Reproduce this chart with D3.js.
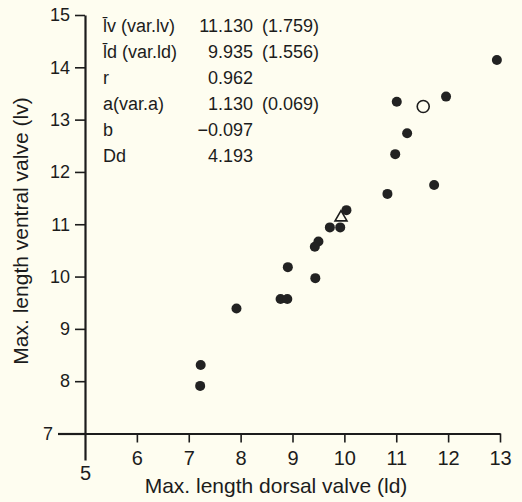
<!DOCTYPE html>
<html>
<head>
<meta charset="utf-8">
<script src="https://cdn.jsdelivr.net/npm/d3@7"></script>
<style>
  html, body { margin: 0; padding: 0; background: #fefdf0; }
  svg { display: block; }
  text { font-family: "Liberation Sans", Arial, Helvetica, sans-serif; fill: #1c1c1c; }
</style>
</head>
<body>
<svg id="chart" width="522" height="502"></svg>
<script>
// Dorsal (ld) and ventral (lv) valve lengths, filled specimens
const ldValues = [12.94, 11.96, 11.01, 11.21, 10.98, 11.73, 10.83, 10.04, 9.72, 9.92,
                  9.50, 9.43, 8.91, 9.44, 8.77, 8.90, 7.92, 7.23, 7.22];
const lvValues = [14.14, 13.44, 13.34, 12.74, 12.34, 11.75, 11.58, 11.27, 10.94, 10.94,
                  10.67, 10.57, 10.18, 9.97, 9.57, 9.57, 9.39, 8.31, 7.91];

// Specimen shown as an open circle
const openLd = [11.52];
const openLv = [13.25];

// Regression summary
const statLabels = ["l\u0304v (var.lv)", "l\u0304d (var.ld)", "r", "a(var.a)", "b", "Dd"];
const statValues = ["11.130", "9.935", "0.962", "1.130", "\u22120.097", "4.193"];
const statErrors = ["(1.759)", "(1.556)", "", "(0.069)", "", ""];

// Means of lv and ld, plotted as a triangle
const meanLd = +statValues[1];
const meanLv = +statValues[0];

const xTicks = [5, 6, 7, 8, 9, 10, 11, 12, 13];
const yTicks = [7, 8, 9, 10, 11, 12, 13, 14, 15];

const ink = "#1c1c1c";
const svg = d3.select("#chart");

const x = d3.scaleLinear().domain([5, 13]).range([85, 500]);
const y = d3.scaleLinear().domain([7, 15]).range([433.5, 15]);

// Y axis: the 7 tick runs out to form the left stub of the x axis
const gy = svg.append("g")
  .attr("transform", `translate(${x(5)},0)`)
  .call(d3.axisLeft(y).tickValues(yTicks).tickSize(10).tickSizeOuter(0).tickPadding(5));
gy.attr("font-size", null).attr("font-family", null);
gy.select(".domain").attr("stroke", ink).attr("stroke-width", 2.2);
gy.selectAll(".tick line").attr("stroke", ink).attr("stroke-width", 1.6);
gy.selectAll(".tick text").style("font-size", "18px");
const gy7 = gy.selectAll(".tick").filter(d => d === 7);
gy7.select("line").attr("x2", -27).attr("stroke-width", 2.2);
gy7.select("text").attr("x", -32);

// X axis: the 5 tick runs down to form the lower stub of the y axis
const gx = svg.append("g")
  .attr("transform", `translate(0,${y(7)})`)
  .call(d3.axisBottom(x).tickValues(xTicks).tickSize(9).tickSizeOuter(0).tickPadding(8));
gx.attr("font-size", null).attr("font-family", null);
gx.select(".domain").attr("stroke", ink).attr("stroke-width", 2.2);
gx.selectAll(".tick line").attr("stroke", ink).attr("stroke-width", 1.6);
gx.selectAll(".tick text").style("font-size", "20px");
const gx5 = gx.selectAll(".tick").filter(d => d === 5);
gx5.select("line").attr("y2", 27).attr("stroke-width", 2.2);
gx5.select("text").attr("y", 32);

// Axis titles
svg.append("text")
  .attr("x", 276).attr("y", 493)
  .attr("text-anchor", "middle")
  .style("font-size", "21px")
  .text("Max. length dorsal valve (ld)");

svg.append("text")
  .attr("transform", "translate(28,231) rotate(-90)")
  .attr("text-anchor", "middle")
  .style("font-size", "21px")
  .text("Max. length ventral valve (lv)");

// Summary table
const rowY = i => 32 + i * 26;
const table = svg.append("g").style("font-size", "18px");
table.selectAll("text.lab").data(statLabels).join("text")
  .attr("class", "lab")
  .attr("x", 103).attr("y", (d, i) => rowY(i))
  .text(d => d);
table.selectAll("text.val").data(statValues).join("text")
  .attr("class", "val")
  .attr("x", 253).attr("y", (d, i) => rowY(i))
  .attr("text-anchor", "end")
  .text(d => d);
table.selectAll("text.err").data(statErrors).join("text")
  .attr("class", "err")
  .attr("x", 262).attr("y", (d, i) => rowY(i))
  .text(d => d);

// Mean point
svg.append("path")
  .attr("d", d3.symbol(d3.symbolTriangle, 62)())
  .attr("transform", `translate(${x(meanLd)},${y(meanLv)})`)
  .attr("fill", "none")
  .attr("stroke", ink)
  .attr("stroke-width", 1.6);

// Open specimen
svg.selectAll("circle.open").data(openLd).join("circle")
  .attr("class", "open")
  .attr("cx", d => x(d))
  .attr("cy", (d, i) => y(openLv[i]))
  .attr("r", 6)
  .attr("fill", "none")
  .attr("stroke", ink)
  .attr("stroke-width", 1.6);

// Filled specimens
svg.selectAll("circle.dot").data(ldValues).join("circle")
  .attr("class", "dot")
  .attr("cx", d => x(d))
  .attr("cy", (d, i) => y(lvValues[i]))
  .attr("r", 5)
  .attr("fill", "#222");
</script>
</body>
</html>
